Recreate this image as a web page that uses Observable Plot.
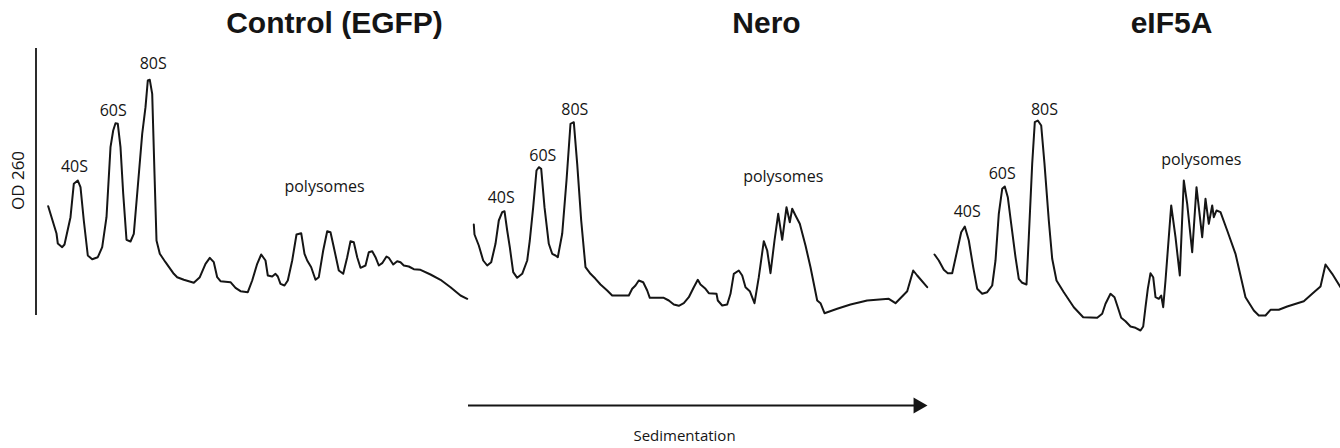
<!DOCTYPE html>
<html>
<head>
<meta charset="utf-8">
<script src="https://cdn.jsdelivr.net/npm/d3@7"></script>
<script src="https://cdn.jsdelivr.net/npm/@observablehq/plot@0.6"></script>
<style>
  html, body { margin: 0; padding: 0; background: #fff; }
  #chart { width: 1340px; height: 448px; }
</style>
</head>
<body>
<div id="chart"></div>
<script>
// Panel titles (x = centre position along the figure)
const panelTitles = ["Control (EGFP)", "Nero", "eIF5A"];
const panelTitleX = [334, 766, 1171];

// Traces: [sedimentation position, OD 260 (a.u.)]
const controlTrace = [
  [47.7,1.343],[56,1.07],[57.3,0.97],[61.7,0.933],[64,0.96],[70,1.233],[73.3,1.567],[77.3,1.60],[80,1.533],
  [83.3,1.20],[87.3,0.85],[91.7,0.813],[97.3,0.833],[101.7,0.933],[106,1.233],[110,1.933],[112.7,2.10],
  [115,2.173],[117.3,2.167],[120,1.933],[122.7,1.47],[126,1.007],[130,0.99],[133.3,1.067],[136.7,1.47],
  [141.7,2.067],[145,2.333],[147.3,2.60],[149.3,2.607],[151.7,2.467],[154,1.667],[156,1.00],[159.3,0.867],
  [165,0.783],[173.3,0.667],[176.7,0.633],[183.3,0.607],[193.3,0.577],[199.3,0.633],[205,0.767],[209.3,0.827],
  [213.3,0.783],[216.7,0.633],[220,0.593],[230,0.583],[235,0.527],[240,0.493],[247.3,0.483],[251.7,0.60],
  [256.7,0.767],[260.7,0.86],[265,0.80],[267.3,0.65],[271.7,0.64],[275,0.667],[277.3,0.64],[280,0.567],
  [284,0.55],[287.3,0.60],[291.7,0.80],[296,1.06],[300.7,1.073],[304,0.867],[306.7,0.80],[310.7,0.733],
  [315,0.607],[318.3,0.633],[322.7,0.90],[326.7,1.093],[330,1.083],[333.3,0.933],[338.3,0.70],[342.7,0.667],
  [346.7,0.833],[350,0.993],[353.3,0.983],[356.7,0.833],[360,0.727],[365,0.75],[368.3,0.883],[371.7,0.893],
  [375,0.833],[378.3,0.75],[381.7,0.773],[386,0.84],[388.3,0.827],[392.7,0.76],[396.7,0.793],[400,0.783],
  [403.3,0.75],[408.3,0.74],[413.3,0.713],[420,0.707],[430,0.66],[440,0.607],[450,0.533],[460,0.45],[466.7,0.417]
];

const neroTrace = [
  [473.3,1.16],[474,1.06],[478.3,0.95],[482.7,0.80],[486.7,0.75],[490.7,0.783],[495,0.967],[498.3,1.20],
  [501.7,1.283],[504,1.293],[506.7,1.10],[509.3,0.933],[512.7,0.683],[516.7,0.627],[521.7,0.667],[526.7,0.80],
  [529.3,1.00],[532.7,1.333],[536,1.70],[538.3,1.733],[540.7,1.717],[544,1.333],[548.3,0.967],[551.7,0.867],
  [555,0.85],[557.3,0.833],[561.7,1.067],[566,1.60],[570,2.167],[573.3,2.183],[576.7,1.767],[580.7,1.20],
  [585,0.733],[590,0.667],[595,0.617],[600,0.56],[606.7,0.50],[611.7,0.45],[628.3,0.45],[631.7,0.517],
  [635,0.55],[638.3,0.60],[642.7,0.583],[646.7,0.50],[649.3,0.427],[663.3,0.427],[668.3,0.40],[673.3,0.36],
  [678.3,0.347],[683.3,0.373],[688.3,0.433],[693.3,0.533],[697.3,0.607],[700,0.56],[705,0.517],[708.3,0.473],
  [716,0.467],[717.3,0.40],[721.7,0.35],[726.7,0.36],[730,0.467],[733.3,0.667],[738.3,0.70],[741.7,0.65],
  [745,0.533],[749.3,0.493],[754,0.373],[758.3,0.633],[763.3,0.993],[766.7,0.90],[770,0.673],[774,1.00],
  [777.7,1.267],[781.7,1.007],[786,1.333],[789.3,1.183],[791.7,1.317],[795,1.25],[799.3,1.167],[805,0.95],
  [810,0.733],[816.7,0.40],[820,0.373],[824,0.273],[836.7,0.317],[850,0.36],[866.7,0.40],[888.3,0.417],
  [895,0.373],[906.7,0.493],[912.7,0.70],[916.7,0.65],[926.7,0.533]
];

const eif5aTrace = [
  [934,0.86],[938.3,0.80],[943.3,0.707],[947.3,0.673],[951.7,0.673],[956.7,0.90],[960.7,1.083],[964.3,1.14],
  [968.3,1.00],[972.7,0.733],[976.7,0.517],[981.7,0.467],[986.7,0.483],[991.7,0.55],[995,0.80],[998.3,1.267],
  [1001.7,1.517],[1004.3,1.54],[1007.3,1.433],[1010.7,1.167],[1015,0.833],[1018.3,0.617],[1021.7,0.577],
  [1026,0.56],[1028.3,1.033],[1031.7,1.767],[1034.3,2.183],[1037.3,2.20],[1040.7,2.15],[1044,1.767],
  [1048.3,1.20],[1051.7,0.817],[1056,0.60],[1063.3,0.483],[1073.3,0.333],[1082.7,0.233],[1096.7,0.227],
  [1101.7,0.267],[1105,0.367],[1110,0.467],[1114,0.433],[1117.3,0.333],[1120.7,0.227],[1125,0.193],
  [1130,0.14],[1135,0.127],[1140,0.10],[1142.7,0.14],[1145,0.333],[1147.3,0.517],[1150,0.673],[1152.7,0.633],
  [1155,0.433],[1158.3,0.417],[1160.7,0.45],[1162.7,0.333],[1165,0.60],[1170.7,1.35],[1175,1.033],
  [1179.3,0.65],[1183.3,1.60],[1186.7,1.367],[1191.7,0.883],[1196,1.533],[1201.7,1.033],[1205,1.417],
  [1208.3,1.167],[1211.7,1.35],[1213.3,1.233],[1216,1.30],[1220,1.283],[1226.7,1.10],[1235,0.867],
  [1245,0.433],[1253.3,0.30],[1258.3,0.25],[1265,0.25],[1270,0.307],[1278.3,0.307],[1286.7,0.34],
  [1303.3,0.393],[1311.7,0.467],[1320,0.54],[1325,0.76],[1331.7,0.667],[1340,0.533]
];

// Peak labels: [text, x, y]
const peakLabels = [
  ["80S",152.7,2.767],["60S",112.7,2.30],["40S",74,1.74],["polysomes",324,1.533],
  ["80S",574.3,2.307],["60S",542.3,1.85],["40S",500.7,1.427],["polysomes",782.7,1.633],
  ["80S",1044,2.307],["60S",1001.7,1.667],["40S",966.7,1.283],["polysomes",1200.7,1.807]
];

const yAxisLabel = "OD 260";
const xAxisLabel = "Sedimentation";

const ink = "#151515";
const lineOpts = {x: d => d[0], y: d => d[1], stroke: ink, strokeWidth: 2, strokeLinejoin: "round", strokeLinecap: "round"};
const labelFont = "Open Sans, Noto Sans, sans-serif";

const titles = panelTitles.map((t, i) => ({t, x: panelTitleX[i], y: 3.17}));

const chart = Plot.plot({
  width: 1340,
  height: 448,
  margin: 0,
  x: {domain: [0, 1340], axis: null},
  y: {domain: [-1.08, 3.40], axis: null},
  marks: [
    // OD axis line
    Plot.ruleX([35.5], {x: d => d, y1: 0.25, y2: 2.92, stroke: ink, strokeWidth: 1.8}),
    Plot.text([yAxisLabel], {x: 18.5, y: 1.60, text: d => d, rotate: -90, fontSize: 17, fontFamily: labelFont, fill: ink}),
    // traces
    Plot.line(controlTrace, lineOpts),
    Plot.line(neroTrace, lineOpts),
    Plot.line(eif5aTrace, lineOpts),
    // peak labels
    Plot.text(peakLabels, {x: d => d[1], y: d => d[2], text: d => d[0], fontSize: 16, fontFamily: labelFont, fill: ink}),
    // titles
    Plot.text(titles, {x: "x", y: "y", text: "t", fontSize: 30, fontWeight: "bold", fontFamily: "Liberation Sans, Arial, sans-serif", fill: ink}),
    // sedimentation arrow
    Plot.ruleY([-0.65], {y: d => d, x1: 468, x2: 916, stroke: ink, strokeWidth: 1.8}),
    Plot.dot([[917.7, -0.65]], {x: d => d[0], y: d => d[1], symbol: "triangle", rotate: 90, r: 6, fill: ink, stroke: "none"}),
    Plot.text([xAxisLabel], {x: 684, y: -0.955, text: d => d, fontSize: 15, fontFamily: labelFont, fill: ink})
  ]
});
document.getElementById("chart").appendChild(chart);
</script>
</body>
</html>
